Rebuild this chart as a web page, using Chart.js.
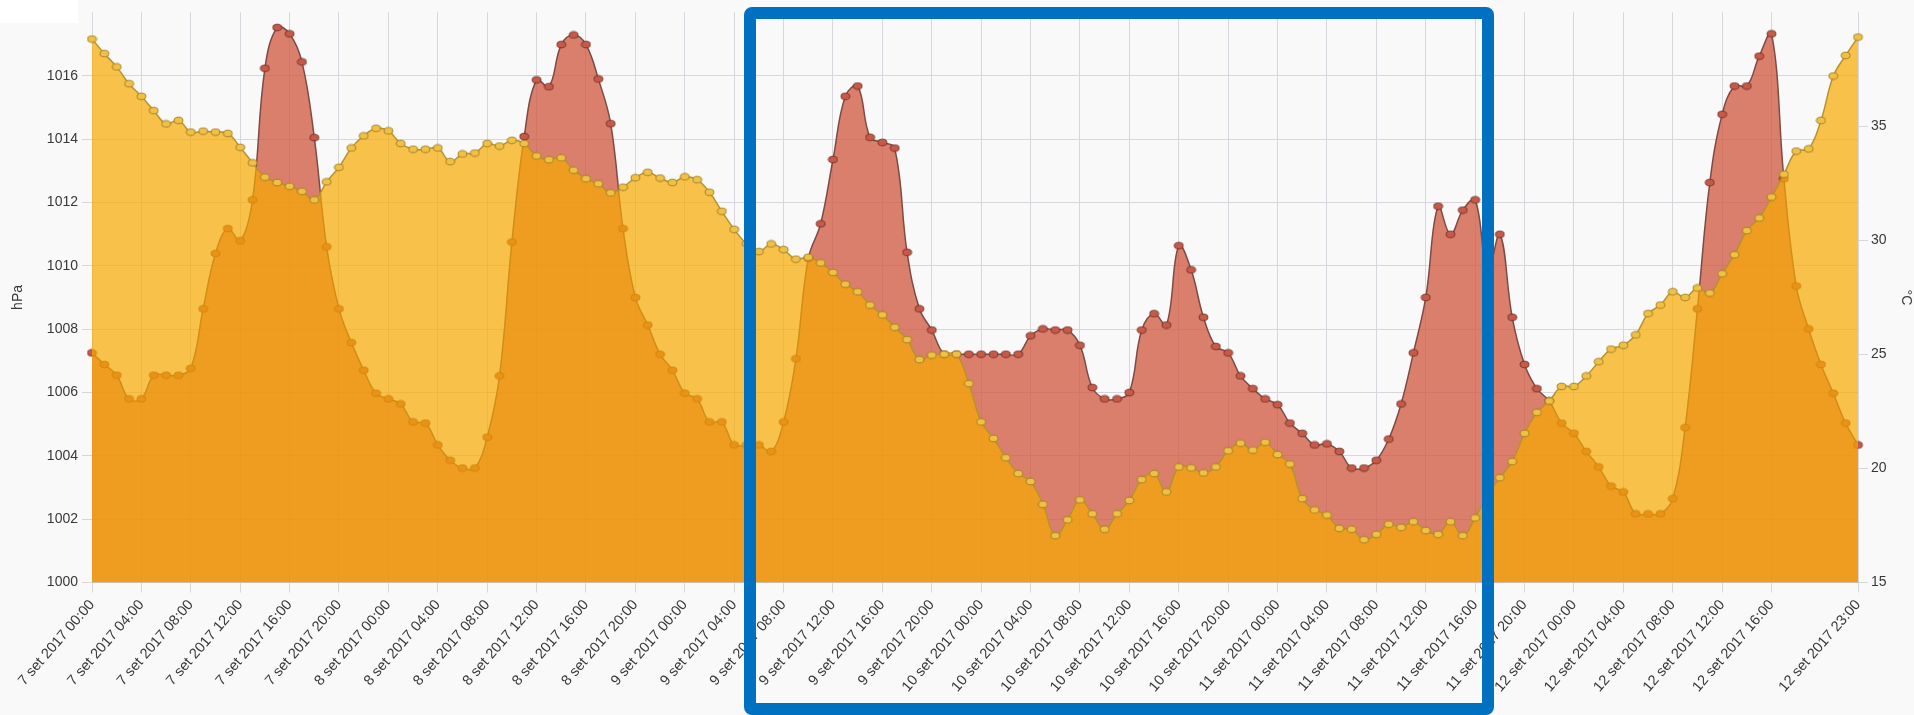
<!DOCTYPE html>
<html>
<head>
<meta charset="utf-8">
<title>Pressão e temperatura</title>
<script src="https://cdn.jsdelivr.net/npm/chart.js@4.4.0/dist/chart.umd.min.js"></script>
<style>
    html, body { margin: 0; padding: 0; background: #f9f9f9; }
    #wrap { position: relative; width: 1914px; height: 715px; overflow: hidden; }
    #grafico { position: absolute; left: 0; top: 0; }
    #canto { position: absolute; left: 0; top: 0; width: 78px; height: 23px; background: #fff; }
    #moldura {
        position: absolute; left: 744px; top: 7px; width: 750px; height: 708px;
        box-sizing: border-box; border: 12px solid #0070c0; border-radius: 8px;
    }
</style>
</head>
<body>
<div id="wrap">
    <div id="canto"></div>
    <canvas id="grafico" width="1914" height="715"></canvas>
    <div id="moldura"></div>
</div>
<script>
// --- DADOS ---
const dias = ['7', '8', '9', '10', '11', '12'];
const mes = 'set 2017';

// pressão (hPa), uma leitura por hora, 7 set 00:00 -> 12 set 23:00
const pressao = [
    1017.16, 1016.70, 1016.28, 1015.75, 1015.35, 1014.90, 1014.48, 1014.59, 1014.22, 1014.25, 1014.22, 1014.18,
    1013.74, 1013.25, 1012.80, 1012.63, 1012.51, 1012.35, 1012.08, 1012.65, 1013.11, 1013.72, 1014.10, 1014.34,
    1014.26, 1013.86, 1013.68, 1013.68, 1013.72, 1013.29, 1013.53, 1013.56, 1013.86, 1013.78, 1013.96, 1013.86,
    1013.47, 1013.35, 1013.41, 1013.02, 1012.75, 1012.59, 1012.30, 1012.48, 1012.78, 1012.95, 1012.77, 1012.63,
    1012.81, 1012.72, 1012.32, 1011.72, 1011.15, 1010.70, 1010.45, 1010.69, 1010.51, 1010.21, 1010.27, 1010.09,
    1009.79, 1009.42, 1009.18, 1008.76, 1008.45, 1008.06, 1007.67, 1007.04, 1007.18, 1007.21, 1007.21, 1006.28,
    1005.07, 1004.55, 1003.94, 1003.44, 1003.19, 1002.47, 1001.48, 1001.98, 1002.61, 1002.17, 1001.68, 1002.17,
    1002.59, 1003.25, 1003.44, 1002.86, 1003.65, 1003.62, 1003.46, 1003.65, 1004.16, 1004.40, 1004.18, 1004.43,
    1004.04, 1003.74, 1002.65, 1002.29, 1002.13, 1001.71, 1001.68, 1001.35, 1001.52, 1001.84, 1001.74, 1001.92,
    1001.64, 1001.52, 1001.92, 1001.48, 1002.04, 1002.75, 1003.31, 1003.82, 1004.71, 1005.37, 1005.73, 1006.19,
    1006.19, 1006.52, 1006.97, 1007.37, 1007.49, 1007.82, 1008.49, 1008.76, 1009.18, 1009.00, 1009.30, 1009.14,
    1009.75, 1010.35, 1011.11, 1011.51, 1012.17, 1012.89, 1013.62, 1013.69, 1014.59, 1015.99, 1016.64, 1017.22
];

// temperatura (°C)
const temperatura = [
    25.07, 24.56, 24.09, 23.05, 23.05, 24.09, 24.09, 24.09, 24.39, 27.00, 29.43, 30.52,
    29.99, 31.78, 37.55, 39.34, 39.06, 37.83, 34.51, 29.72, 27.00, 25.52, 24.31, 23.30,
    23.05, 22.83, 22.04, 21.99, 21.03, 20.36, 20.02, 20.02, 21.37, 24.06, 29.93, 34.56,
    37.04, 36.74, 38.59, 39.01, 38.59, 37.08, 35.12, 30.52, 27.50, 26.29, 25.01, 24.31,
    23.30, 23.05, 22.04, 22.04, 21.03, 21.03, 21.03, 20.75, 22.04, 24.81, 29.21, 30.73,
    33.55, 36.32, 36.77, 34.52, 34.30, 34.05, 29.48, 27.00, 26.07, 25.01, 25.01, 25.01,
    25.01, 25.01, 25.01, 25.01, 25.82, 26.12, 26.07, 26.07, 25.40, 23.55, 23.05, 23.05,
    23.33, 26.07, 26.79, 26.29, 29.77, 28.71, 26.63, 25.35, 25.07, 24.06, 23.50, 23.05,
    22.80, 21.99, 21.54, 21.03, 21.08, 20.75, 20.02, 20.02, 20.36, 21.29, 22.83, 25.07,
    27.50, 31.50, 30.27, 31.33, 31.78, 28.60, 30.27, 26.63, 24.56, 23.50, 22.96, 21.99,
    21.54, 20.75, 20.07, 19.23, 18.97, 18.01, 18.01, 18.01, 18.68, 21.79, 27.00, 32.54,
    35.53, 36.77, 36.77, 38.08, 39.06, 32.71, 28.00, 26.12, 24.56, 23.30, 21.99, 21.03
];

// eixos
const eixoPressao = { min: 1000, max: 1018, passo: 2 };
const eixoTemp = { min: 15, max: 40, passo: 5 };

// rótulos de hora em hora
const rotulos = [];
for (const d of dias) {
    for (let h = 0; h < 24; h++) {
        rotulos.push(`${d} ${mes} ${String(h).padStart(2, '0')}:00`);
    }
}
const ultimo = rotulos.length - 1;

// --- PONTOS (ovais, como no original) ---
function criarPonto(cor, borda) {
    const c = document.createElement('canvas');
    c.width = 11;
    c.height = 9;
    const g = c.getContext('2d');
    g.beginPath();
    g.ellipse(5.5, 4.5, 4.4, 3.3, 0, 0, Math.PI * 2);
    g.fillStyle = cor;
    g.fill();
    g.lineWidth = 1;
    g.strokeStyle = borda;
    g.stroke();
    return c;
}
const pontoPressao = criarPonto('#efc046', '#a5801f');
const pontoTemp = criarPonto('#c65a4a', '#7a3328');

const fonte = { family: '"Liberation Sans", Arial, sans-serif', size: 14 };
const corTexto = '#383838';
const corGrade = '#d6d6dc';

const ctx = document.getElementById('grafico').getContext('2d');
new Chart(ctx, {
    type: 'line',
    data: {
        labels: rotulos,
        datasets: [
            {
                label: 'Pressão',
                data: pressao,
                yAxisID: 'y',
                order: 1,
                fill: 'start',
                backgroundColor: 'rgba(246,170,0,0.7)',
                borderColor: '#b8922a',
                borderWidth: 1.5,
                tension: 0.4,
                pointStyle: pontoPressao,
                pointRadius: 4
            },
            {
                label: 'Temperatura',
                data: temperatura,
                yAxisID: 'y1',
                order: 2,
                fill: 'start',
                backgroundColor: 'rgba(208,86,62,0.75)',
                borderColor: '#7d4a44',
                borderWidth: 1.5,
                tension: 0.4,
                pointStyle: pontoTemp,
                pointRadius: 4
            }
        ]
    },
    options: {
        responsive: false,
        animation: false,
        layout: { padding: { top: 11, left: 0, right: 0, bottom: 0 } },
        plugins: { legend: { display: false }, tooltip: { enabled: false } },
        scales: {
            x: {
                afterFit: (s) => { s.height = 132.5; },
                grid: { color: corGrade, tickLength: 10 },
                border: { color: '#cccccc' },
                ticks: {
                    autoSkip: false,
                    minRotation: 49,
                    maxRotation: 49,
                    padding: 4,
                    color: corTexto,
                    font: { ...fonte, size: 14.5 },
                    callback: function (v, i) {
                        if ((i % 4 === 0 && i <= ultimo - 7) || i === ultimo) return rotulos[i];
                        return null;
                    }
                }
            },
            y: {
                position: 'left',
                min: eixoPressao.min,
                max: eixoPressao.max,
                afterFit: (s) => { s.width = 92; },
                grid: { color: corGrade, tickLength: 10 },
                border: { display: false },
                title: { display: true, text: 'hPa', color: corTexto, font: fonte, padding: { top: 10, bottom: 0 } },
                ticks: {
                    stepSize: eixoPressao.passo,
                    padding: 4,
                    color: corTexto,
                    font: fonte,
                    callback: (v) => (v >= eixoPressao.max ? null : v)
                }
            },
            y1: {
                position: 'right',
                min: eixoTemp.min,
                max: eixoTemp.max,
                afterFit: (s) => { s.width = 56; },
                grid: { drawOnChartArea: false, color: corGrade, tickLength: 10 },
                border: { display: false },
                title: { display: true, text: '°C', color: corTexto, font: fonte, padding: { top: 0, bottom: 0 } },
                ticks: {
                    stepSize: eixoTemp.passo,
                    padding: 3,
                    color: corTexto,
                    font: fonte,
                    callback: (v) => (v >= eixoTemp.max ? null : v)
                }
            }
        }
    }
});
</script>
</body>
</html>
